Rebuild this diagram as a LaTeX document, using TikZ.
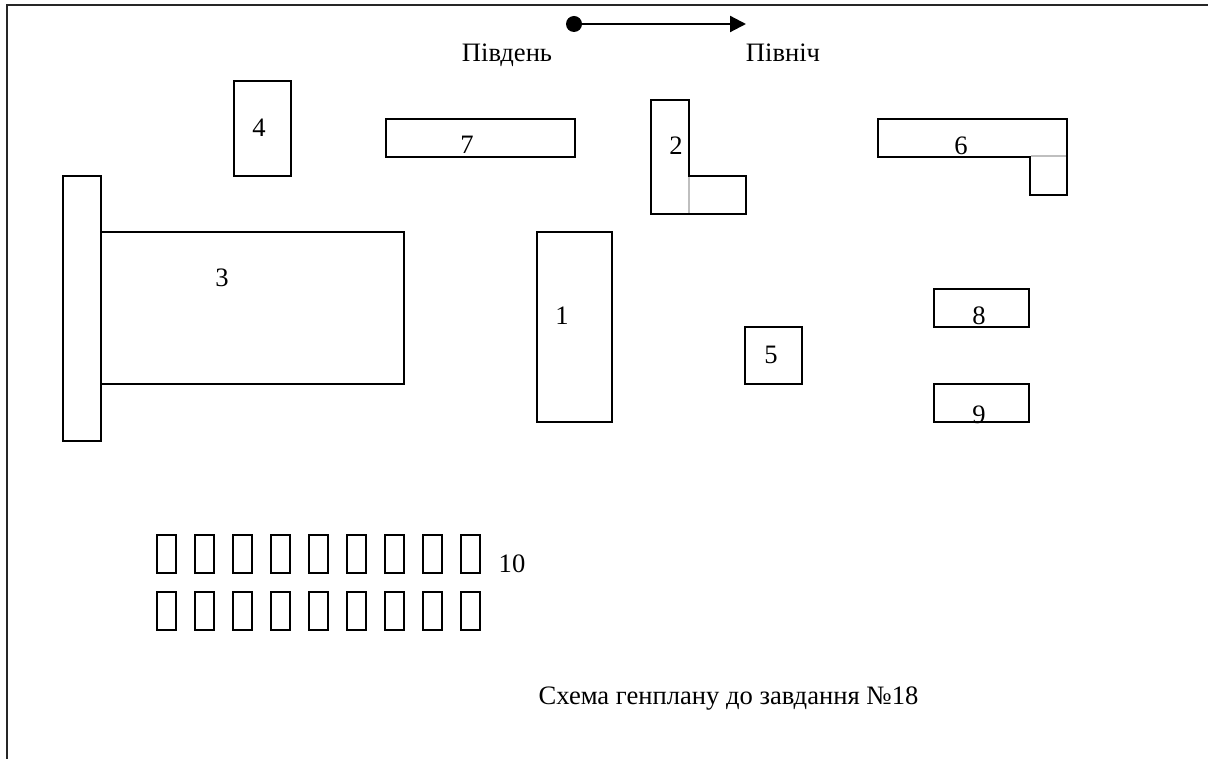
\documentclass[tikz,border=0pt]{standalone}
\usepackage{fontspec}
\setmainfont{Liberation Serif}
\usetikzlibrary{arrows.meta}
\tikzset{
  bld/.style={draw=black,line width=2pt,minimum width=#1,inner sep=0pt,outer sep=0pt},
  outline/.style={draw=black,line width=2pt,line join=miter},
  seam/.style={draw=black!25,line width=2pt},
  lbl/.style={anchor=base,inner sep=0pt,yshift=-2pt,font=\fontsize{26.6pt}{30pt}\selectfont},
  stall/.style={draw=black,line width=2pt,minimum width=19pt,minimum height=38pt,inner sep=0pt,outer sep=0pt},
}
\begin{document}
\begin{tikzpicture}[x=1pt,y=-1pt]
\useasboundingbox (0,0) rectangle (1208,759);
% sheet frame
\coordinate (fa) at (6.5,759); \coordinate (fb) at (6.5,5.5); \coordinate (fc) at (1208,5.5);
\draw[line width=2pt,draw=black!85] (fa) -- (fb) -- (fc);
% north arrow
\node[circle,fill=black,minimum size=16pt,inner sep=0pt,outer sep=0pt] (s) at (574,24) {};
\coordinate (n) at (746,24);
\draw[line width=2.2pt,-{Triangle[length=16pt,width=16pt]}] (s) -- (n);
\node[lbl] (tS) at (507,60) {Південь};
\node[lbl] (tN) at (783,60) {Північ};
% buildings
\node[bld=57pt,minimum height=95pt] (b4) at (262.5,128.5) {};
\node[bld=189pt,minimum height=38pt] (b7) at (480.5,138) {};
\node[bld=38pt,minimum height=265pt] (bar) at (82,308.5) {};
\node[bld=303pt,minimum height=152pt] (b3) at (252.5,308) {};
\node[bld=75pt,minimum height=190pt] (b1) at (574.5,327) {};
\node[bld=57pt,minimum height=57pt] (b5) at (773.5,355.5) {};
\node[bld=95pt,minimum height=38pt] (b8) at (981.5,308) {};
\node[bld=95pt,minimum height=38pt] (b9) at (981.5,403) {};
% L-shaped buildings
\draw[outline] (650.5,100) -- (688.5,100) -- (688.5,176) -- (745.5,176) -- (745.5,214) -- (650.5,214) -- cycle;
\draw[seam] (688.5,177) -- (688.5,213);
\draw[outline] (878,119) -- (1067,119) -- (1067,195) -- (1030,195) -- (1030,157) -- (878,157) -- cycle;
\draw[seam] (1031,156.5) -- (1066,156.5);
% stalls
\foreach \i in {0,...,8} {
  \node[stall] (u\i) at ({166.7+38*\i},554) {};
  \node[stall] (l\i) at ({166.7+38*\i},611) {};
}
% labels
\node[lbl] (t4) at (259,135) {4};
\node[lbl] (t7) at (467,152) {7};
\node[lbl] (t2) at (676,153) {2};
\node[lbl] (t6) at (961,153) {6};
\node[lbl] (t3) at (222,285) {3};
\node[lbl] (t1) at (562,323) {1};
\node[lbl] (t5) at (771,361) {5};
\node[lbl] (t8) at (979,323) {8};
\node[lbl] (t9) at (979,422) {9};
\node[lbl] (t10) at (512,570) {10};
\node[lbl] (cap) at (728.5,702) {Схема генплану до завдання №18};
\end{tikzpicture}
\end{document}
